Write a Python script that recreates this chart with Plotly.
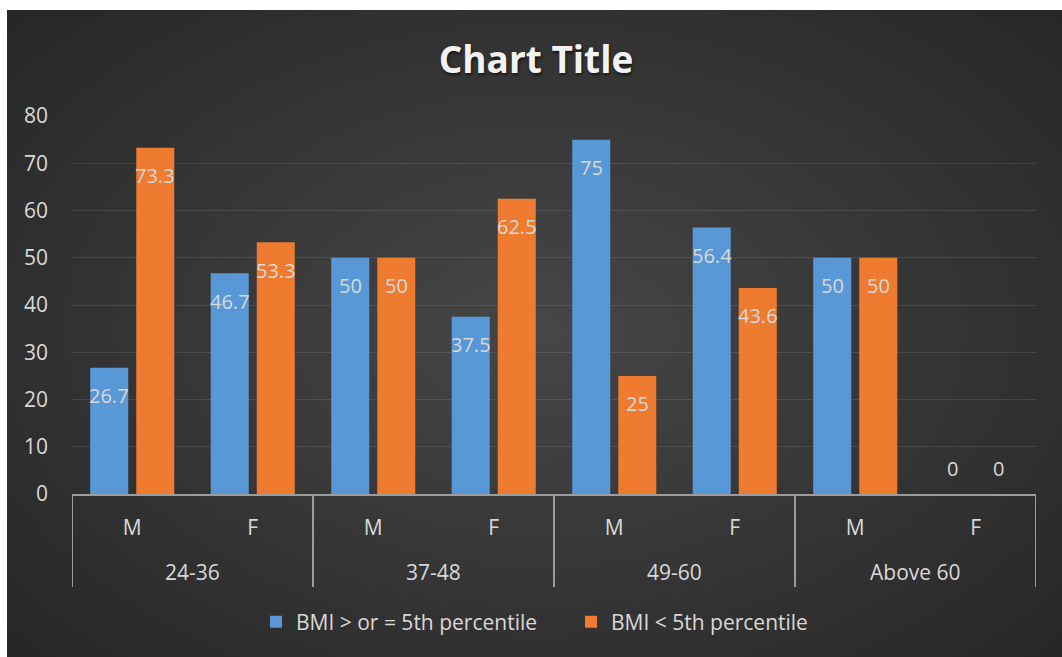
import plotly.graph_objects as go

# ---- data ----
age_groups = ["24-36", "37-48", "49-60", "Above 60"]
sexes = ["M", "F"]
series_names = ["BMI > or = 5th percentile", "BMI < 5th percentile"]
bmi_at_or_above = [26.7, 46.7, 50, 37.5, 75, 56.4, 50, 0]
bmi_below = [73.3, 53.3, 50, 62.5, 25, 43.6, 50, 0]
y_ticks = [0, 10, 20, 30, 40, 50, 60, 70, 80]

# ---- styling ----
W, H = 1062, 657
PL, PR, PT, PB = 72, 1036, 116, 494          # plot area in pixels
FONT = "Open Sans"
TXT = "#d9d9d9"
BLUE = "#5898d6"
ORANGE = "#ee7b2f"
LINE = "#9c9c9c"
AX_SIZE = 21
LBL_SIZE = 20

n_cat = len(age_groups) * len(sexes)
cat_x = list(range(n_cat))
cat_labels = [s for _ in age_groups for s in sexes]


def px_to_paper_x(px):
    return (px - PL) / (PR - PL)


def px_to_paper_y(py):
    return (PB - py) / (PB - PT)


fig = go.Figure()
series = [(series_names[0], bmi_at_or_above, BLUE),
          (series_names[1], bmi_below, ORANGE)]
for name, vals, col in series:
    fig.add_trace(go.Bar(x=cat_x, y=vals, name=name,
                         marker=dict(color=col, line=dict(width=0))))

shapes = []
# dark chart background with a soft radial light in the middle
shapes.append(dict(type="rect", xref="paper", yref="paper", layer="below",
                   x0=px_to_paper_x(7), x1=px_to_paper_x(1062),
                   y0=px_to_paper_y(657), y1=px_to_paper_y(10),
                   fillcolor="#262626", line=dict(width=0)))
cx, cy = 540, 330
RX, RY = 720, 470
N = 32
for k in range(N):
    f = 1 - k / N
    shapes.append(dict(type="circle", xref="paper", yref="paper", layer="below",
                       x0=px_to_paper_x(cx - RX * f), x1=px_to_paper_x(cx + RX * f),
                       y0=px_to_paper_y(cy + RY * f), y1=px_to_paper_y(cy - RY * f),
                       fillcolor="rgba(255,255,255,0.009)", line=dict(width=0)))
# white frame outside the chart area
shapes.append(dict(type="rect", xref="paper", yref="paper", layer="below",
                   x0=px_to_paper_x(0), x1=px_to_paper_x(7),
                   y0=px_to_paper_y(657), y1=px_to_paper_y(0),
                   fillcolor="white", line=dict(width=0)))
shapes.append(dict(type="rect", xref="paper", yref="paper", layer="below",
                   x0=px_to_paper_x(0), x1=px_to_paper_x(1062),
                   y0=px_to_paper_y(10), y1=px_to_paper_y(0),
                   fillcolor="white", line=dict(width=0)))

# group dividers of the two-level category axis
div_bottom = px_to_paper_y(587)
for g in range(len(age_groups) + 1):
    xb = g * len(sexes) - 0.5
    shapes.append(dict(type="line", xref="x", yref="paper",
                       x0=xb, x1=xb, y0=0, y1=div_bottom,
                       line=dict(color=LINE, width=2)))

annotations = []
# group labels
for g, name in enumerate(age_groups):
    annotations.append(dict(x=g * len(sexes) + (len(sexes) - 1) / 2, xref="x",
                            y=px_to_paper_y(572), yref="paper", text=name,
                            showarrow=False, yanchor="middle",
                            font=dict(family=FONT, size=AX_SIZE, color=TXT)))

# value labels at the inside end of each bar
slot = 0.191
for s_idx, (name, vals, col) in enumerate(series):
    off = -slot if s_idx == 0 else slot
    for i, v in enumerate(vals):
        annotations.append(dict(x=i + off, xref="x", y=v, yref="y",
                                text=f"{v:g}", showarrow=False, yanchor="middle",
                                yshift=-28 if v > 0 else 26,
                                font=dict(family=FONT, size=LBL_SIZE, color=TXT)))

fig.update_layout(
    width=W, height=H,
    margin=dict(l=PL, r=W - PR, t=PT, b=H - PB, pad=0),
    paper_bgcolor="white",
    plot_bgcolor="rgba(0,0,0,0)",
    barmode="group",
    bargap=0.236,
    bargroupgap=0.174,
    title=dict(text="Chart Title", x=px_to_paper_x(536), xref="paper",
               y=1 - 60 / H, yref="container", xanchor="center", yanchor="middle",
               font=dict(family=FONT, size=37, color="#f2f2f2", weight="bold",
                         shadow="1px 2px 3px rgba(0,0,0,0.6)")),
    xaxis=dict(range=[-0.5, n_cat - 0.5], tickvals=cat_x, ticktext=cat_labels,
               showgrid=False, zeroline=False, showline=True,
               linecolor=LINE, linewidth=2, ticks="",
               ticklabelstandoff=14,
               tickfont=dict(family=FONT, size=AX_SIZE, color=TXT)),
    yaxis=dict(range=[0, 80], tickvals=y_ticks, showgrid=True,
               gridcolor="rgba(255,255,255,0.10)", gridwidth=1.3,
               zeroline=False, showline=False, ticks="",
               ticklabelstandoff=23,
               tickfont=dict(family=FONT, size=AX_SIZE, color=TXT)),
    legend=dict(orientation="h", x=px_to_paper_x(256), xanchor="left",
                y=px_to_paper_y(622), yanchor="middle",
                bgcolor="rgba(0,0,0,0)", entrywidth=270, entrywidthmode="pixels",
                font=dict(family=FONT, size=AX_SIZE, color=TXT)),
    shapes=shapes,
    annotations=annotations,
)

fig.write_html("out.html")
